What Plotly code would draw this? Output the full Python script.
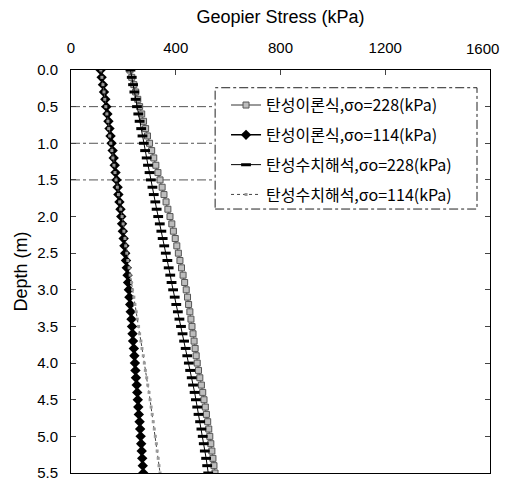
import plotly.graph_objects as go

depth = [0.0, 0.1, 0.2, 0.3, 0.4, 0.5, 0.6, 0.7, 0.8, 0.9, 1.0,
         1.1, 1.2, 1.3, 1.4, 1.5, 1.6, 1.7, 1.8, 1.9, 2.0,
         2.1, 2.2, 2.3, 2.4, 2.5, 2.6, 2.7, 2.8, 2.9, 3.0,
         3.1, 3.2, 3.3, 3.4, 3.5, 3.6, 3.7, 3.8, 3.9, 4.0,
         4.1, 4.2, 4.3, 4.4, 4.5, 4.6, 4.7, 4.8, 4.9, 5.0,
         5.1, 5.2, 5.3, 5.4, 5.5]

theory_228 = [225, 232, 240, 247, 255, 262, 270, 277, 285, 292, 300,
              308, 316, 324, 332, 340, 348, 355, 363, 370, 378,
              385, 391, 398, 404, 410, 416, 422, 428, 434, 440,
              445, 449, 454, 458, 462, 466, 470, 474, 478, 482,
              487, 492, 498, 503, 508, 513, 517, 522, 526, 530,
              534, 538, 542, 546, 550]

theory_114 = [113, 117, 122, 126, 131, 135, 139, 143, 147, 151, 155,
              159, 163, 167, 170, 174, 178, 181, 185, 189, 192,
              195, 198, 201, 204, 207, 210, 213, 216, 218, 221,
              223, 226, 228, 231, 233, 235, 237, 240, 242, 244,
              246, 248, 251, 253, 255, 257, 259, 262, 264, 266,
              268, 270, 272, 274, 276]

numeric_228 = [227, 232, 237, 242, 247, 252, 257, 262, 268, 273, 278,
               283, 289, 294, 300, 305, 311, 316, 322, 327, 333,
               339, 345, 350, 356, 362, 368, 373, 379, 384, 390,
               396, 402, 408, 414, 420, 426, 432, 438, 444, 450,
               455, 461, 466, 472, 477, 482, 487, 493, 498, 503,
               507, 511, 516, 520, 524]

numeric_114 = [114, 118, 122, 126, 129, 133, 137, 141, 144, 148, 152,
               156, 160, 164, 168, 172, 177, 181, 186, 190, 195,
               199, 202, 206, 209, 213, 217, 222, 226, 231, 235,
               240, 244, 249, 253, 258, 262, 267, 271, 276, 280,
               284, 289, 293, 298, 302, 306, 310, 314, 318, 322,
               326, 329, 333, 336, 340]

names = ["탄성이론식,σo=228(kPa)", "탄성이론식,σo=114(kPa)",
         "탄성수치해석,σo=228(kPa)", "탄성수치해석,σo=114(kPa)"]

x_ticks = [0, 400, 800, 1200, 1600]
x_ticktext = ["0", "400", "800", "1200", ""]
x_last_label = "1600"
y_ticks = [0.0, 0.5, 1.0, 1.5, 2.0, 2.5, 3.0, 3.5, 4.0, 4.5, 5.0, 5.5]
grid_depths = [0.5, 1.0, 1.5]

fig = go.Figure()

fig.add_trace(go.Scatter(
    x=theory_228, y=depth, name=names[0], mode="lines+markers", legendgroup="a",
    line=dict(color="#777777", width=1.5),
    marker=dict(symbol="square", size=6, color="#bdbdbd", line=dict(color="#555555", width=1))))
fig.add_trace(go.Scatter(
    x=theory_114, y=depth, name=names[1], mode="lines+markers", legendgroup="b",
    line=dict(color="black", width=1.5),
    marker=dict(symbol="diamond", size=8, color="black")))
fig.add_trace(go.Scatter(
    x=numeric_228, y=depth, name=names[2], mode="lines+markers", legendgroup="c",
    line=dict(color="black", width=1),
    marker=dict(symbol="line-ew", size=7, color="black", line=dict(color="black", width=3))))
fig.add_trace(go.Scatter(
    x=numeric_114, y=depth, name=names[3], mode="lines+markers", legendgroup="d",
    line=dict(color="#444444", width=1, dash="dot"),
    marker=dict(symbol="square", size=3, color="#999999")))

shapes = []
for d in grid_depths:
    shapes.append(dict(type="line", xref="paper", yref="y", x0=0, x1=0.344, y0=d, y1=d,
                       line=dict(color="#555555", width=1, dash="dashdot"), layer="below"))
shapes.append(dict(type="rect", xref="paper", yref="paper", x0=0.344, x1=0.969, y0=0.655, y1=0.956,
                   line=dict(color="#222222", width=1, dash="dashdot")))

fig.add_annotation(x=x_ticks[-1], xref="x", y=1, yref="paper", yanchor="bottom",
                   text=x_last_label, showarrow=False, xshift=-8, yshift=11,
                   font=dict(family="Liberation Sans, Arial, sans-serif", size=15, color="black"))

fig.update_layout(
    width=505, height=492,
    margin=dict(l=71, r=15, t=70, b=11),
    paper_bgcolor="white", plot_bgcolor="white",
    font=dict(family="Liberation Sans, Arial, sans-serif", size=15, color="black"),
    showlegend=True,
    legend=dict(x=0.37, y=0.955, xanchor="left", yanchor="top",
                font=dict(family="Noto Sans CJK KR", size=16, color="black"),
                bgcolor="rgba(0,0,0,0)", borderwidth=0, tracegroupgap=6),
    shapes=shapes,
    xaxis=dict(side="top", range=[0, 1600], tickvals=x_ticks, ticktext=x_ticktext,
               ticks="inside", ticklen=5, ticklabelstandoff=10,
               showline=True, linecolor="black", linewidth=1, mirror=True, showgrid=False,
               zeroline=False, title=dict(text="Geopier Stress (kPa)", standoff=10)),
    yaxis=dict(range=[5.5, 0], tickvals=y_ticks, tickformat=".1f", ticks="inside", ticklen=5,
               ticklabelstandoff=9,
               showline=True, linecolor="black", linewidth=1, mirror="ticks", showgrid=False,
               zeroline=False, title=dict(text="Depth (m)", standoff=4)),
)

fig.write_html("out.html")
